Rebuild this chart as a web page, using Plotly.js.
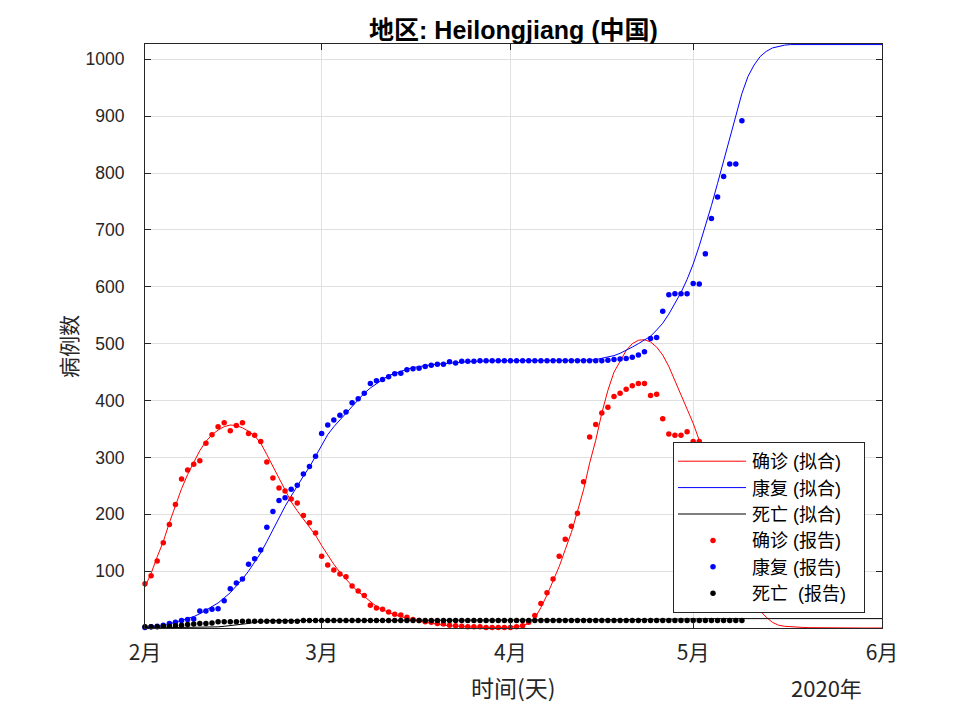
<!DOCTYPE html>
<html><head><meta charset="utf-8">
<script src="https://cdn.plot.ly/plotly-3.0.1.min.js"></script>
<style>body{margin:0;background:#fff}#chart{width:964px;height:712px}</style>
</head><body><div id="chart"></div>
<script>
// Fitted curves: daily from 2020-02-01 to 2020-06-01 (122 days)
const fitConfirmed = [72,96,125,152,185,215,245,270,292,312,328,340,348,354,357,356,352,346,338,325,305,284,262,241,222,206,192,179,163,145,128,112,98,85,74,64,55,46,38,32,27,23,20,17,14,12,10,8,6.5,5,4,3,2.5,2,1.5,1,1,0.8,0.8,1,1.5,2.5,4,8,17,36,58,82,108,138,168,205,243,290,330,378,418,450,470,488,500,506,507,503,494,480,460,436,412,385,360,330,295,258,220,182,147,115,87,63,44,30,19,10,5,3,2,1.5,1,0.6,0.4,0.3,0.2,0.2,0.1,0.1,0.1,0.1,0,0,0,0];
const fitRecovered = [0,1,2,4,7,10,13,16,20,25,31,37,44,53,62,74,86,100,115,132,152,173,194,214,232,250,267,283,302,322,340,354,366,377,390,401,413,422,430,437,444,448,452,455,458,460,462,463,464,465,466,467,468,468,469,469,470,470,470,470,470,470,470,470,470,470,470,470,470,470,470,470,470,471,472,474,476,479,483,488,494,500,506,513,524,536,552,570,590,613,640,672,706,743,782,822,862,900,940,970,990,1005,1014,1020,1023,1025,1026,1026,1026,1026,1026,1026,1026,1026,1026,1026,1026,1026,1026,1026,1026,1026];
const fitDeaths = [0,0.1,0.2,0.3,0.4,0.5,0.6,0.8,1,1.2,1.4,1.7,2,3,4,5,6.5,8,10,12,12.8,13.1,13.2,13.3,13.3,13.3,13.3,13.3,13.3,13.3,13.3,13.3,13.3,13.3,13.3,13.3,13.3,13.3,13.3,13.3,13.3,13.3,13.3,13.3,13.3,13.3,13.3,13.3,13.3,13.3,13.3,13.3,13.3,13.3,13.3,13.3,13.3,13.3,13.3,13.3,13.3,13.3,13.3,13.3,13.3,13.3,13.3,13.3,13.3,13.3,13.4,13.5,13.6,13.7,13.8,14,14.2,14.4,14.6,14.8,15,15.2,15.4,15.6,15.8,16,16.1,16.2,16.3,16.4,16.5,16.5,16.5,16.5,16.5,16.5,16.5,16.5,16.5,16.5,16.5,16.5,16.5,16.5,16.5,16.5,16.5,16.5,16.5,16.5,16.5,16.5,16.5,16.5,16.5,16.5,16.5,16.5,16.5,16.5,16.5,16.5];
// Reported: daily from 2020-02-01 to 2020-05-09 (99 days)
const repConfirmed = [78,92,118,150,182,217,262,278,288,294,325,340,354,361,347,356,361,342,339,328,292,264,246,241,227,220,198,185,167,126,111,102,95,90,74,65,57,40,35,33,28,24,23,19,15,13,11,10,8,7,5,4,3,2,2,2,1,1,1,1,1,2,4,10,22,43,62,86,126,156,179,202,257,336,358,378,388,407,413,420,426,430,430,409,411,368,341,339,339,345,328,328,275,213,175,139,117,117,60];
const repRecovered = [1,2,3,5,8,10,13,15,16,30,30,33,34,48,69,79,86,112,122,137,177,205,224,229,244,251,271,284,302,342,357,366,374,380,396,403,413,430,435,437,442,447,448,454,456,457,460,462,464,464,468,466,469,469,469,470,470,470,470,470,470,470,470,470,470,470,470,470,470,470,470,470,470,470,470,470,471,472,473,474,476,480,486,509,511,557,586,588,588,588,606,605,658,720,758,794,816,816,892];
const repDeaths = [2,2,2,3,3,4,5,6,7,8,8,9,11,11,11,11,12,12,12,12,12,12,12,12,12,12,13,13,13,13,13,13,13,13,13,13,13,13,13,13,13,13,13,13,13,13,13,13,13,13,13,13,13,13,13,13,13,13,13,13,13,13,13,13,13,13,13,13,13,13,13,13,13,13,13,13,13,13,13,13,13,13,13,13,13,13,13,13,13,13,13,13,13,13,13,13,13,13,13];
const monthTicks = ['2020-02-01','2020-03-01','2020-04-01','2020-05-01','2020-06-01'];
const monthLabels = ['2月','3月','4月','5月','6月'];
const yTicks = [100,200,300,400,500,600,700,800,900,1000];
const seriesNames = ['确诊 (拟合)','康复 (拟合)','死亡 (拟合)','确诊 (报告)','康复 (报告)','死亡\u00a0 (报告)'];
const colors = ['#ff0000','#0000ff','#000000'];

function dayLabels(n){
  const out=[]; const t0=Date.UTC(2020,1,1);
  for(let i=0;i<n;i++){ out.push(new Date(t0+i*86400000).toISOString().slice(0,10)); }
  return out;
}
const xFit = dayLabels(fitConfirmed.length);
const xRep = dayLabels(repConfirmed.length);

const fits = [fitConfirmed, fitRecovered, fitDeaths];
const reps = [repConfirmed, repRecovered, repDeaths];
const traces = [];
fits.forEach((y,i)=>traces.push({x:xFit, y:y, type:'scatter', mode:'lines', name:seriesNames[i],
  line:{color:colors[i], width:1}}));
reps.forEach((y,i)=>traces.push({x:xRep, y:y, type:'scatter', mode:'markers', name:seriesNames[i+3],
  marker:{color:colors[i], size:5.5}, cliponaxis:false}));

const cjk = '"Noto Sans CJK SC", sans-serif';
const font = '"Liberation Sans", Arial, "Noto Sans CJK SC", sans-serif';
const axisCommon = {showline:true, linecolor:'#262626', linewidth:1, mirror:'ticks', ticks:'inside',
  ticklen:6, tickcolor:'#262626', showgrid:true, gridcolor:'#e0e0e0', gridwidth:1, zeroline:false};

const layout = {
  width:964, height:712,
  margin:{l:145, r:82, t:44, b:84},
  paper_bgcolor:'#ffffff', plot_bgcolor:'#ffffff',
  font:{family:font, color:'#262626'},
  showlegend:true,
  title:{text:'地区: Heilongjiang (中国)', font:{family:font, size:25, weight:'bold', color:'#000'},
    xref:'paper', x:0.5, xanchor:'center', yref:'container', y:1-30/712, yanchor:'middle'},
  xaxis:Object.assign({}, axisCommon, {type:'date', range:['2020-02-01','2020-06-01'],
    tickmode:'array', tickvals:monthTicks, ticktext:monthLabels, ticklabelstandoff:6,
    tickfont:{family:cjk, size:21, color:'#262626'}}),
  yaxis:Object.assign({}, axisCommon, {range:[0,1027], tickmode:'array', tickvals:yTicks,
    ticktext:yTicks.map(String), ticklabelstandoff:16,
    tickfont:{family:font, size:17.5, color:'#262626'}}),
  legend:{x:(673-145)/737, y:(628-442)/584, xanchor:'left', yanchor:'top', bgcolor:'#ffffff',
    bordercolor:'#262626', borderwidth:1, itemwidth:81, font:{family:font, size:18, color:'#000'}},
  annotations:[
    {text:'时间(天)', xref:'paper', yref:'paper', x:0.5, y:(628-687)/584, xanchor:'center', yanchor:'middle',
      showarrow:false, font:{family:cjk, size:23, color:'#262626'}},
    {text:'2020年', xref:'paper', yref:'paper', x:(826-145)/737, y:(628-687)/584, xanchor:'center', yanchor:'middle',
      showarrow:false, font:{family:cjk, size:22, color:'#262626'}},
    {text:'病例数', xref:'paper', yref:'paper', x:(68-145)/737, y:(628-347)/584, xanchor:'center', yanchor:'middle',
      textangle:-90, showarrow:false, font:{family:cjk, size:21, color:'#262626'}}
  ]
};
Plotly.newPlot('chart', traces, layout, {displayModeBar:false, responsive:false}).then(function(gd){
  // MATLAB-style legend samples: long line, centred dot, text closer to the sample
  gd.querySelectorAll('.legend .traces').forEach(function(g, i){
    g.querySelectorAll('.legendlines path.js-line').forEach(function(p){
      p.setAttribute('d','M4,0h68');
      if(i < 3){ p.style.stroke = colors[i]; }
    });
    g.querySelectorAll('.legendpoints path').forEach(function(p){ p.setAttribute('transform','translate(39,0)'); });
    const t = g.querySelector('.legendtext');
    if(t){ t.setAttribute('x', parseFloat(t.getAttribute('x')) - 13); }
  });
});
</script>
</body></html>
